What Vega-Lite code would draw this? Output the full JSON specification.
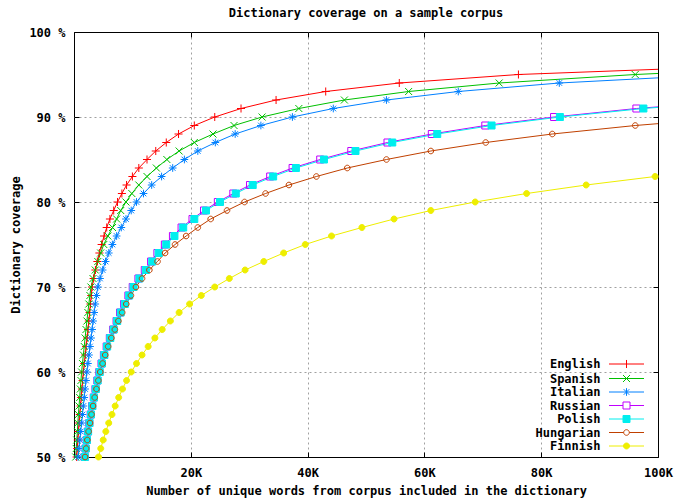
{
  "$schema": "https://vega.github.io/schema/vega-lite/v6.json",
  "width": 584,
  "height": 425,
  "autosize": {"type": "none"},
  "padding": {"left": 74, "top": 32, "right": 26, "bottom": 42},
  "background": "white",
  "title": {"text": "Dictionary coverage on a sample corpus", "frame": "group", "anchor": "middle", "offset": 6, "font": "DejaVu Sans Mono", "fontSize": 12, "fontWeight": "bold", "color": "black"},
  "config": {"view": {"stroke": "black", "strokeWidth": 1}, "font": "DejaVu Sans Mono"},
  "data": {"values": [
    {"lang":"English","cov":50,"words":450},{"lang":"English","cov":51,"words":550},{"lang":"English","cov":52,"words":650},{"lang":"English","cov":53,"words":760},{"lang":"English","cov":54,"words":880},{"lang":"English","cov":55,"words":1000},{"lang":"English","cov":56,"words":1120},{"lang":"English","cov":57,"words":1240},{"lang":"English","cov":58,"words":1360},{"lang":"English","cov":59,"words":1480},{"lang":"English","cov":60,"words":1600},{"lang":"English","cov":61,"words":1760},{"lang":"English","cov":62,"words":1920},{"lang":"English","cov":63,"words":2080},{"lang":"English","cov":64,"words":2240},{"lang":"English","cov":65,"words":2400},{"lang":"English","cov":66,"words":2540},{"lang":"English","cov":67,"words":2680},{"lang":"English","cov":68,"words":2820},{"lang":"English","cov":69,"words":2960},{"lang":"English","cov":70,"words":3100},{"lang":"English","cov":71,"words":3370},{"lang":"English","cov":72,"words":3670},{"lang":"English","cov":73,"words":4000},{"lang":"English","cov":74,"words":4350},{"lang":"English","cov":75,"words":4730},{"lang":"English","cov":76,"words":5150},{"lang":"English","cov":77,"words":5600},{"lang":"English","cov":78,"words":6150},{"lang":"English","cov":79,"words":6800},{"lang":"English","cov":80,"words":7450},{"lang":"English","cov":81,"words":8200},{"lang":"English","cov":82,"words":9000},{"lang":"English","cov":83,"words":10000},{"lang":"English","cov":84,"words":11100},{"lang":"English","cov":85,"words":12500},{"lang":"English","cov":86,"words":14000},{"lang":"English","cov":87,"words":15800},{"lang":"English","cov":88,"words":17900},{"lang":"English","cov":89,"words":20600},{"lang":"English","cov":90,"words":24100},{"lang":"English","cov":91,"words":28600},{"lang":"English","cov":92,"words":34600},{"lang":"English","cov":93,"words":43100},{"lang":"English","cov":94,"words":55700},{"lang":"English","cov":95,"words":76100},{"lang":"English","cov":96,"words":115000},
    {"lang":"Spanish","cov":50,"words":300},{"lang":"Spanish","cov":51,"words":390},{"lang":"Spanish","cov":52,"words":480},{"lang":"Spanish","cov":53,"words":570},{"lang":"Spanish","cov":54,"words":660},{"lang":"Spanish","cov":55,"words":750},{"lang":"Spanish","cov":56,"words":860},{"lang":"Spanish","cov":57,"words":970},{"lang":"Spanish","cov":58,"words":1080},{"lang":"Spanish","cov":59,"words":1190},{"lang":"Spanish","cov":60,"words":1300},{"lang":"Spanish","cov":61,"words":1450},{"lang":"Spanish","cov":62,"words":1600},{"lang":"Spanish","cov":63,"words":1750},{"lang":"Spanish","cov":64,"words":1900},{"lang":"Spanish","cov":65,"words":2050},{"lang":"Spanish","cov":66,"words":2210},{"lang":"Spanish","cov":67,"words":2370},{"lang":"Spanish","cov":68,"words":2540},{"lang":"Spanish","cov":69,"words":2720},{"lang":"Spanish","cov":70,"words":2900},{"lang":"Spanish","cov":71,"words":3250},{"lang":"Spanish","cov":72,"words":3640},{"lang":"Spanish","cov":73,"words":4070},{"lang":"Spanish","cov":74,"words":4560},{"lang":"Spanish","cov":75,"words":5100},{"lang":"Spanish","cov":76,"words":5800},{"lang":"Spanish","cov":77,"words":6600},{"lang":"Spanish","cov":78,"words":7300},{"lang":"Spanish","cov":79,"words":8000},{"lang":"Spanish","cov":80,"words":8900},{"lang":"Spanish","cov":81,"words":9900},{"lang":"Spanish","cov":82,"words":11100},{"lang":"Spanish","cov":83,"words":12500},{"lang":"Spanish","cov":84,"words":14100},{"lang":"Spanish","cov":85,"words":15900},{"lang":"Spanish","cov":86,"words":18000},{"lang":"Spanish","cov":87,"words":20600},{"lang":"Spanish","cov":88,"words":23800},{"lang":"Spanish","cov":89,"words":27400},{"lang":"Spanish","cov":90,"words":32200},{"lang":"Spanish","cov":91,"words":38500},{"lang":"Spanish","cov":92,"words":46300},{"lang":"Spanish","cov":93,"words":57300},{"lang":"Spanish","cov":94,"words":72800},{"lang":"Spanish","cov":95,"words":96100},{"lang":"Spanish","cov":96,"words":128000},
    {"lang":"Italian","cov":50,"words":700},{"lang":"Italian","cov":51,"words":850},{"lang":"Italian","cov":52,"words":1000},{"lang":"Italian","cov":53,"words":1150},{"lang":"Italian","cov":54,"words":1300},{"lang":"Italian","cov":55,"words":1450},{"lang":"Italian","cov":56,"words":1600},{"lang":"Italian","cov":57,"words":1750},{"lang":"Italian","cov":58,"words":1900},{"lang":"Italian","cov":59,"words":2050},{"lang":"Italian","cov":60,"words":2200},{"lang":"Italian","cov":61,"words":2380},{"lang":"Italian","cov":62,"words":2560},{"lang":"Italian","cov":63,"words":2740},{"lang":"Italian","cov":64,"words":2920},{"lang":"Italian","cov":65,"words":3100},{"lang":"Italian","cov":66,"words":3270},{"lang":"Italian","cov":67,"words":3450},{"lang":"Italian","cov":68,"words":3640},{"lang":"Italian","cov":69,"words":3850},{"lang":"Italian","cov":70,"words":4080},{"lang":"Italian","cov":71,"words":4450},{"lang":"Italian","cov":72,"words":4900},{"lang":"Italian","cov":73,"words":5400},{"lang":"Italian","cov":74,"words":5950},{"lang":"Italian","cov":75,"words":6570},{"lang":"Italian","cov":76,"words":7300},{"lang":"Italian","cov":77,"words":8100},{"lang":"Italian","cov":78,"words":8900},{"lang":"Italian","cov":79,"words":9800},{"lang":"Italian","cov":80,"words":10700},{"lang":"Italian","cov":81,"words":11900},{"lang":"Italian","cov":82,"words":13300},{"lang":"Italian","cov":83,"words":15000},{"lang":"Italian","cov":84,"words":16900},{"lang":"Italian","cov":85,"words":18900},{"lang":"Italian","cov":86,"words":21200},{"lang":"Italian","cov":87,"words":24200},{"lang":"Italian","cov":88,"words":27600},{"lang":"Italian","cov":89,"words":32000},{"lang":"Italian","cov":90,"words":37400},{"lang":"Italian","cov":91,"words":44400},{"lang":"Italian","cov":92,"words":53500},{"lang":"Italian","cov":93,"words":65800},{"lang":"Italian","cov":94,"words":83100},{"lang":"Italian","cov":95,"words":111000},
    {"lang":"Russian","cov":50,"words":1820},{"lang":"Russian","cov":51,"words":1990},{"lang":"Russian","cov":52,"words":2180},{"lang":"Russian","cov":53,"words":2380},{"lang":"Russian","cov":54,"words":2610},{"lang":"Russian","cov":55,"words":2860},{"lang":"Russian","cov":56,"words":3100},{"lang":"Russian","cov":57,"words":3380},{"lang":"Russian","cov":58,"words":3670},{"lang":"Russian","cov":59,"words":3990},{"lang":"Russian","cov":60,"words":4330},{"lang":"Russian","cov":61,"words":4710},{"lang":"Russian","cov":62,"words":5120},{"lang":"Russian","cov":63,"words":5590},{"lang":"Russian","cov":64,"words":6130},{"lang":"Russian","cov":65,"words":6700},{"lang":"Russian","cov":66,"words":7290},{"lang":"Russian","cov":67,"words":7880},{"lang":"Russian","cov":68,"words":8570},{"lang":"Russian","cov":69,"words":9310},{"lang":"Russian","cov":70,"words":10050},{"lang":"Russian","cov":71,"words":11030},{"lang":"Russian","cov":72,"words":12120},{"lang":"Russian","cov":73,"words":13200},{"lang":"Russian","cov":74,"words":14280},{"lang":"Russian","cov":75,"words":15560},{"lang":"Russian","cov":76,"words":16940},{"lang":"Russian","cov":77,"words":18420},{"lang":"Russian","cov":78,"words":20290},{"lang":"Russian","cov":79,"words":22260},{"lang":"Russian","cov":80,"words":24630},{"lang":"Russian","cov":81,"words":27280},{"lang":"Russian","cov":82,"words":30140},{"lang":"Russian","cov":83,"words":33590},{"lang":"Russian","cov":84,"words":37430},{"lang":"Russian","cov":85,"words":42160},{"lang":"Russian","cov":86,"words":47480},{"lang":"Russian","cov":87,"words":53680},{"lang":"Russian","cov":88,"words":61270},{"lang":"Russian","cov":89,"words":70430},{"lang":"Russian","cov":90,"words":82200},{"lang":"Russian","cov":91,"words":96300},{"lang":"Russian","cov":92,"words":115600},
    {"lang":"Polish","cov":50,"words":1850},{"lang":"Polish","cov":51,"words":2020},{"lang":"Polish","cov":52,"words":2210},{"lang":"Polish","cov":53,"words":2420},{"lang":"Polish","cov":54,"words":2650},{"lang":"Polish","cov":55,"words":2900},{"lang":"Polish","cov":56,"words":3150},{"lang":"Polish","cov":57,"words":3430},{"lang":"Polish","cov":58,"words":3730},{"lang":"Polish","cov":59,"words":4050},{"lang":"Polish","cov":60,"words":4400},{"lang":"Polish","cov":61,"words":4780},{"lang":"Polish","cov":62,"words":5200},{"lang":"Polish","cov":63,"words":5680},{"lang":"Polish","cov":64,"words":6220},{"lang":"Polish","cov":65,"words":6800},{"lang":"Polish","cov":66,"words":7400},{"lang":"Polish","cov":67,"words":8000},{"lang":"Polish","cov":68,"words":8700},{"lang":"Polish","cov":69,"words":9450},{"lang":"Polish","cov":70,"words":10200},{"lang":"Polish","cov":71,"words":11200},{"lang":"Polish","cov":72,"words":12300},{"lang":"Polish","cov":73,"words":13400},{"lang":"Polish","cov":74,"words":14500},{"lang":"Polish","cov":75,"words":15800},{"lang":"Polish","cov":76,"words":17200},{"lang":"Polish","cov":77,"words":18700},{"lang":"Polish","cov":78,"words":20600},{"lang":"Polish","cov":79,"words":22600},{"lang":"Polish","cov":80,"words":25000},{"lang":"Polish","cov":81,"words":27700},{"lang":"Polish","cov":82,"words":30600},{"lang":"Polish","cov":83,"words":34100},{"lang":"Polish","cov":84,"words":38000},{"lang":"Polish","cov":85,"words":42800},{"lang":"Polish","cov":86,"words":48200},{"lang":"Polish","cov":87,"words":54500},{"lang":"Polish","cov":88,"words":62200},{"lang":"Polish","cov":89,"words":71500},{"lang":"Polish","cov":90,"words":83200},{"lang":"Polish","cov":91,"words":97500},{"lang":"Polish","cov":92,"words":117000},
    {"lang":"Hungarian","cov":50,"words":1900},{"lang":"Hungarian","cov":51,"words":2080},{"lang":"Hungarian","cov":52,"words":2280},{"lang":"Hungarian","cov":53,"words":2500},{"lang":"Hungarian","cov":54,"words":2740},{"lang":"Hungarian","cov":55,"words":3000},{"lang":"Hungarian","cov":56,"words":3260},{"lang":"Hungarian","cov":57,"words":3550},{"lang":"Hungarian","cov":58,"words":3850},{"lang":"Hungarian","cov":59,"words":4170},{"lang":"Hungarian","cov":60,"words":4500},{"lang":"Hungarian","cov":61,"words":4900},{"lang":"Hungarian","cov":62,"words":5350},{"lang":"Hungarian","cov":63,"words":5850},{"lang":"Hungarian","cov":64,"words":6400},{"lang":"Hungarian","cov":65,"words":7000},{"lang":"Hungarian","cov":66,"words":7600},{"lang":"Hungarian","cov":67,"words":8250},{"lang":"Hungarian","cov":68,"words":8950},{"lang":"Hungarian","cov":69,"words":9750},{"lang":"Hungarian","cov":70,"words":10600},{"lang":"Hungarian","cov":71,"words":11650},{"lang":"Hungarian","cov":72,"words":12900},{"lang":"Hungarian","cov":73,"words":14300},{"lang":"Hungarian","cov":74,"words":15600},{"lang":"Hungarian","cov":75,"words":17300},{"lang":"Hungarian","cov":76,"words":19200},{"lang":"Hungarian","cov":77,"words":21200},{"lang":"Hungarian","cov":78,"words":23400},{"lang":"Hungarian","cov":79,"words":26200},{"lang":"Hungarian","cov":80,"words":29200},{"lang":"Hungarian","cov":81,"words":32800},{"lang":"Hungarian","cov":82,"words":36800},{"lang":"Hungarian","cov":83,"words":41500},{"lang":"Hungarian","cov":84,"words":46800},{"lang":"Hungarian","cov":85,"words":53500},{"lang":"Hungarian","cov":86,"words":61100},{"lang":"Hungarian","cov":87,"words":70500},{"lang":"Hungarian","cov":88,"words":81900},{"lang":"Hungarian","cov":89,"words":96100},{"lang":"Hungarian","cov":90,"words":114000},
    {"lang":"Finnish","cov":50,"words":4200},{"lang":"Finnish","cov":51,"words":4580},{"lang":"Finnish","cov":52,"words":5000},{"lang":"Finnish","cov":53,"words":5450},{"lang":"Finnish","cov":54,"words":5950},{"lang":"Finnish","cov":55,"words":6500},{"lang":"Finnish","cov":56,"words":7050},{"lang":"Finnish","cov":57,"words":7650},{"lang":"Finnish","cov":58,"words":8300},{"lang":"Finnish","cov":59,"words":9000},{"lang":"Finnish","cov":60,"words":9800},{"lang":"Finnish","cov":61,"words":10700},{"lang":"Finnish","cov":62,"words":11650},{"lang":"Finnish","cov":63,"words":12700},{"lang":"Finnish","cov":64,"words":13850},{"lang":"Finnish","cov":65,"words":15100},{"lang":"Finnish","cov":66,"words":16500},{"lang":"Finnish","cov":67,"words":18000},{"lang":"Finnish","cov":68,"words":19800},{"lang":"Finnish","cov":69,"words":21800},{"lang":"Finnish","cov":70,"words":24100},{"lang":"Finnish","cov":71,"words":26600},{"lang":"Finnish","cov":72,"words":29300},{"lang":"Finnish","cov":73,"words":32500},{"lang":"Finnish","cov":74,"words":35900},{"lang":"Finnish","cov":75,"words":39600},{"lang":"Finnish","cov":76,"words":44100},{"lang":"Finnish","cov":77,"words":49300},{"lang":"Finnish","cov":78,"words":54800},{"lang":"Finnish","cov":79,"words":61100},{"lang":"Finnish","cov":80,"words":68700},{"lang":"Finnish","cov":81,"words":77500},{"lang":"Finnish","cov":82,"words":87700},{"lang":"Finnish","cov":83,"words":99500},{"lang":"Finnish","cov":84,"words":113000}
  ]},
  "resolve": {"axis": {"x": "independent", "y": "independent"}},
  "layer": [
    {
      "mark": {"type": "line", "clip": true, "strokeWidth": 1},
      "encoding": {
        "x": {"field": "words", "type": "quantitative",
          "scale": {"domain": [0, 100000], "nice": false, "zero": false},
          "axis": {"title": "Number of unique words from corpus included in the dictionary", "values": [0, 20000, 40000, 60000, 80000, 100000],
            "labelExpr": "datum.value == 0 ? '' : format(datum.value / 1000, 'd') + 'K'",
            "grid": true, "gridDash": [2, 3], "gridColor": "#a0a0a0", "gridWidth": 1,
            "gridOpacity": {"condition": {"test": "datum.value == 0 || datum.value == 100000", "value": 0}, "value": 1},
            "domain": false, "ticks": true, "tickSize": -5, "tickColor": "black", "tickWidth": 1,
            "labelPadding": 15, "labelFont": "DejaVu Sans Mono", "labelFontSize": 12, "labelFontWeight": "bold", "labelColor": "black", "labelFlush": false,
            "titleFont": "DejaVu Sans Mono", "titleFontSize": 12, "titleFontWeight": "bold", "titleColor": "black", "titlePadding": 7}},
        "y": {"field": "cov", "type": "quantitative",
          "scale": {"domain": [50, 100], "nice": false, "zero": false},
          "axis": {"title": "Dictionary coverage", "values": [50, 60, 70, 80, 90, 100],
            "labelExpr": "datum.value + ' %'",
            "grid": true, "gridDash": [2, 3], "gridColor": "#a0a0a0", "gridWidth": 1,
            "gridOpacity": {"condition": {"test": "datum.value == 50 || datum.value == 100", "value": 0}, "value": 1},
            "domain": false, "ticks": true, "tickSize": -5, "tickColor": "black", "tickWidth": 1,
            "labelPadding": 14, "labelFont": "DejaVu Sans Mono", "labelFontSize": 12, "labelFontWeight": "bold", "labelColor": "black",
            "titleFont": "DejaVu Sans Mono", "titleFontSize": 12, "titleFontWeight": "bold", "titleColor": "black", "titlePadding": 6}},
        "color": {"field": "lang", "type": "nominal",
          "scale": {"domain": ["English", "Spanish", "Italian", "Russian", "Polish", "Hungarian", "Finnish"],
                    "range": ["#ff0000", "#00c000", "#0080ff", "#c000ff", "#00eeee", "#c04000", "#eeee00"]},
          "legend": {"orient": "none", "legendX": 546.5, "legendY": 326, "title": null, "padding": 0,
            "labelFont": "DejaVu Sans Mono", "labelFontSize": 12, "labelFontWeight": "bold", "labelColor": "black",
            "labelAlign": "right", "labelOffset": -32, "symbolSize": 49, "symbolStrokeWidth": 1, "rowPadding": 1.5,
            "encode": {"symbols": {"update": {
              "shape": {"signal": "datum.value === 'English' ? 'M-5,0L5,0M0,-1.15L0,1.15' : datum.value === 'Spanish' ? 'M-5,0L5,0M-1,-1L1,1M-1,1L1,-1' : datum.value === 'Italian' ? 'M-5,0L5,0M0,-1.1L0,1.1M-0.8,-0.8L0.8,0.8M-0.8,0.8L0.8,-0.8' : datum.value === 'Hungarian' ? 'M-5,0L-0.8,0M0.8,0L5,0M0.8,0A0.8,0.8 0 1,1 -0.8,0A0.8,0.8 0 1,1 0.8,0Z' : datum.value === 'Finnish' ? 'M-5,0L5,0M0.85,0A0.85,0.85 0 1,1 -0.85,0A0.85,0.85 0 1,1 0.85,0Z' : 'M-5,0L-1,0M1,0L5,0M-1,-1L1,-1L1,1L-1,1Z'"},
              "fill": {"signal": "datum.value === 'Polish' ? '#00eeee' : datum.value === 'Finnish' ? '#eeee00' : 'transparent'"},
              "strokeWidth": {"value": 1},
              "opacity": {"value": 1}
            }}}}
        }
      }
    },
    {
      "transform": [{"filter": "datum.words <= 100000"}],
      "mark": {"type": "point", "filled": false, "size": 49, "strokeWidth": 1, "opacity": 1},
      "encoding": {
        "x": {"field": "words", "type": "quantitative",
          "axis": {"orient": "top", "title": null, "labels": false, "grid": false, "domain": false, "ticks": true, "tickSize": -5, "tickColor": "black", "values": [0, 20000, 40000, 60000, 80000, 100000]}},
        "y": {"field": "cov", "type": "quantitative",
          "axis": {"orient": "right", "title": null, "labels": false, "grid": false, "domain": false, "ticks": true, "tickSize": -5, "tickColor": "black", "values": [50, 60, 70, 80, 90, 100]}},
        "color": {"field": "lang", "type": "nominal"},
        "shape": {"field": "lang", "type": "nominal", "legend": null,
          "scale": {"domain": ["Finnish", "Hungarian", "Polish", "Russian", "Italian", "Spanish", "English"],
                    "range": ["M0.85,0A0.85,0.85 0 1,1 -0.85,0A0.85,0.85 0 1,1 0.85,0Z", "M0.8,0A0.8,0.8 0 1,1 -0.8,0A0.8,0.8 0 1,1 0.8,0Z", "M-1,-1L1,-1L1,1L-1,1Z", "M-1,-1L1,-1L1,1L-1,1Z", "M-1.1,0L1.1,0M0,-1.1L0,1.1M-0.8,-0.8L0.8,0.8M-0.8,0.8L0.8,-0.8", "M-1,-1L1,1M-1,1L1,-1", "M-1.15,0L1.15,0M0,-1.15L0,1.15"]}},
        "fill": {"field": "lang", "type": "nominal", "legend": null,
          "scale": {"domain": ["Polish", "Finnish", "English", "Spanish", "Italian", "Russian", "Hungarian"],
                    "range": ["#00eeee", "#eeee00", "transparent", "transparent", "transparent", "transparent", "transparent"]}}
      }
    }
  ]
}
